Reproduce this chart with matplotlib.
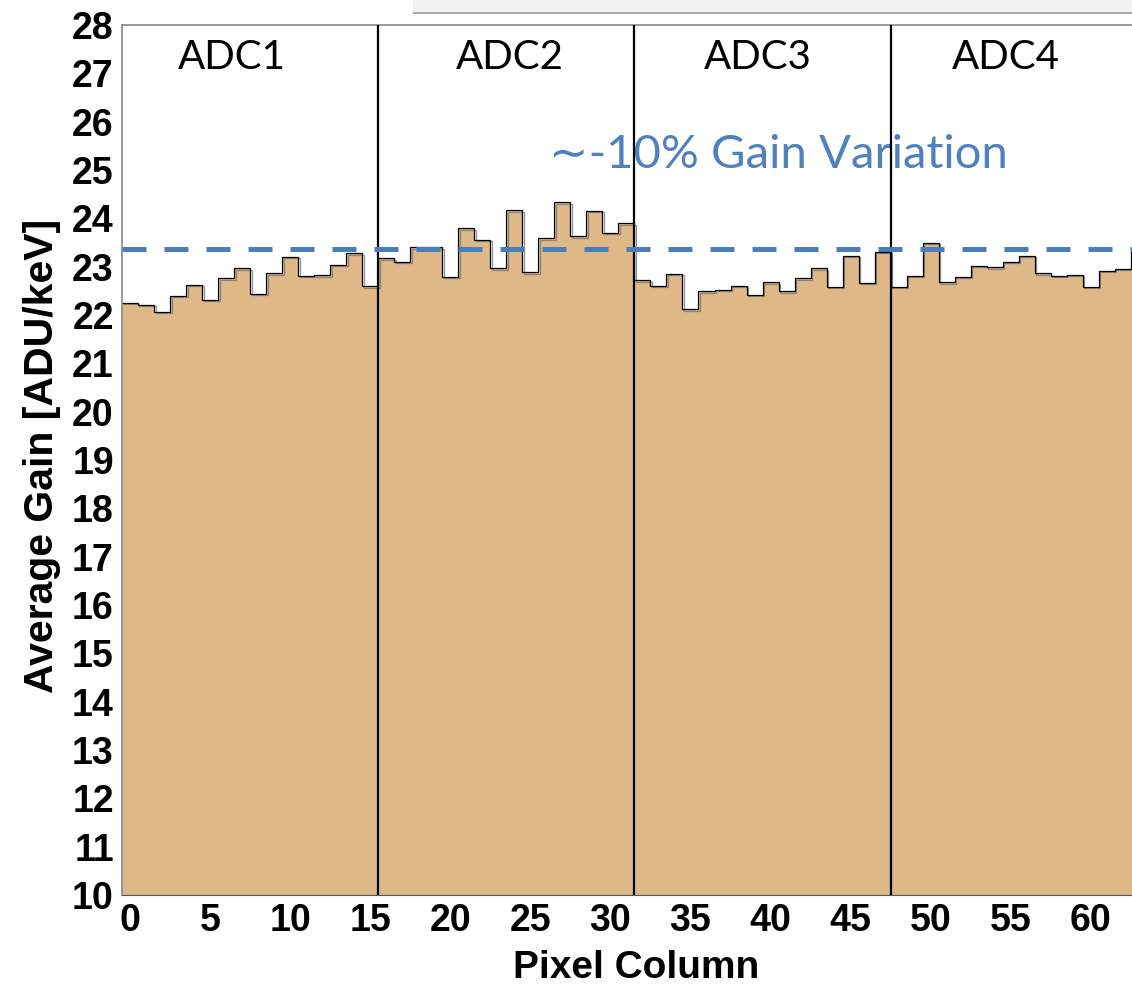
import matplotlib

matplotlib.use("Agg")

import matplotlib.pyplot as plt
import matplotlib.patheffects as pe
from matplotlib.patches import Rectangle
import numpy as np

# average gain per pixel column, one value per column (0..63)
adc1_gain = [22.25, 22.21, 22.07, 22.40, 22.63, 22.32, 22.76, 22.97,
             22.44, 22.86, 23.21, 22.81, 22.82, 23.04, 23.28, 22.59]
adc2_gain = [23.17, 23.10, 23.40, 23.40, 22.79, 23.79, 23.55, 22.97,
             24.17, 22.88, 23.59, 24.33, 23.63, 24.15, 23.70, 23.90]
adc3_gain = [22.72, 22.61, 22.85, 22.12, 22.49, 22.52, 22.61, 22.42,
             22.68, 22.49, 22.76, 22.97, 22.58, 23.22, 22.67, 23.31]
adc4_gain = [22.58, 22.81, 23.50, 22.68, 22.79, 23.02, 22.99, 23.10,
             23.22, 22.86, 22.81, 22.83, 22.58, 22.92, 22.95, 23.34]

adc_names = ["ADC1", "ADC2", "ADC3", "ADC4"]
adc_bounds = [15.5, 31.5, 47.5]
ref_gain = 23.36
note = "\u223c-10% Gain Variation"

gain = np.array(adc1_gain + adc2_gain + adc3_gain + adc4_gain)
edges = np.arange(len(gain) + 1) - 0.5

fig = plt.figure(figsize=(11.32, 9.85), dpi=100)
# axes runs a little past the right edge of the canvas
ax = fig.add_axes([122.1 / 1132, 90 / 985, 1024.7 / 1132, 870 / 985])

ax.stairs(gain, edges, baseline=10, fill=True, color="#DEB887", zorder=1)
ax.stairs(gain, edges, baseline=None, color="black", lw=0.9, zorder=2,
          path_effects=[pe.SimpleLineShadow(offset=(1, -1), shadow_color="#777777", alpha=0.8),
                        pe.Normal()])

for xb in adc_bounds:
    ax.axvline(xb, color="black", lw=1.6, zorder=3)

ax.axhline(ref_gain, color="#4A7EBB", lw=3.6, ls=(0, (4.8, 3.6)),
           dash_capstyle="butt", zorder=4)

centers = [6.36, 23.7, 39.2, 54.7]
for name, xc in zip(adc_names, centers):
    ax.text(xc, 27.32, name, ha="center", va="center", fontsize=29,
            family=["Lato", "DejaVu Sans"], color="black")

ax.text(40.47, 25.32, note, ha="center", va="center", fontsize=34,
        family=["Lato", "DejaVu Sans"], color="#4F81BD", zorder=0.5)

ax.set_xlim(-0.5, 63.5)
ax.set_ylim(10, 28)
ax.set_xticks(np.arange(0, 61, 5))
ax.set_yticks(np.arange(10, 29, 1))
ax.tick_params(length=0, labelsize=27, pad=6)
for lab in ax.get_xticklabels() + ax.get_yticklabels():
    lab.set_fontweight("bold")
    lab.set_family("Liberation Sans")

ax.set_xlabel("Pixel Column", fontsize=28, fontweight="bold", family="Liberation Sans")
ax.set_ylabel("Average Gain [ADU/keV]", fontsize=29.5, fontweight="bold", family="Liberation Sans")
ax.xaxis.set_label_coords(0.502, -0.063)
ax.yaxis.set_label_coords(-0.060, 0.505)

for side in ["left", "top"]:
    ax.spines[side].set_color("#888888")
    ax.spines[side].set_linewidth(1.2)
ax.spines["bottom"].set_color("#555555")
ax.spines["right"].set_visible(False)

# grey strip along the top edge
fig.patches.append(Rectangle((413 / 1132, 973 / 985), 1, 12 / 985,
                             transform=fig.transFigure, facecolor="#F2F2F2",
                             edgecolor="none"))
fig.patches.append(Rectangle((413 / 1132, 971 / 985), 1, 2 / 985,
                             transform=fig.transFigure, facecolor="#AAAAAA",
                             edgecolor="none"))

plt.savefig("out.png", dpi=100)
